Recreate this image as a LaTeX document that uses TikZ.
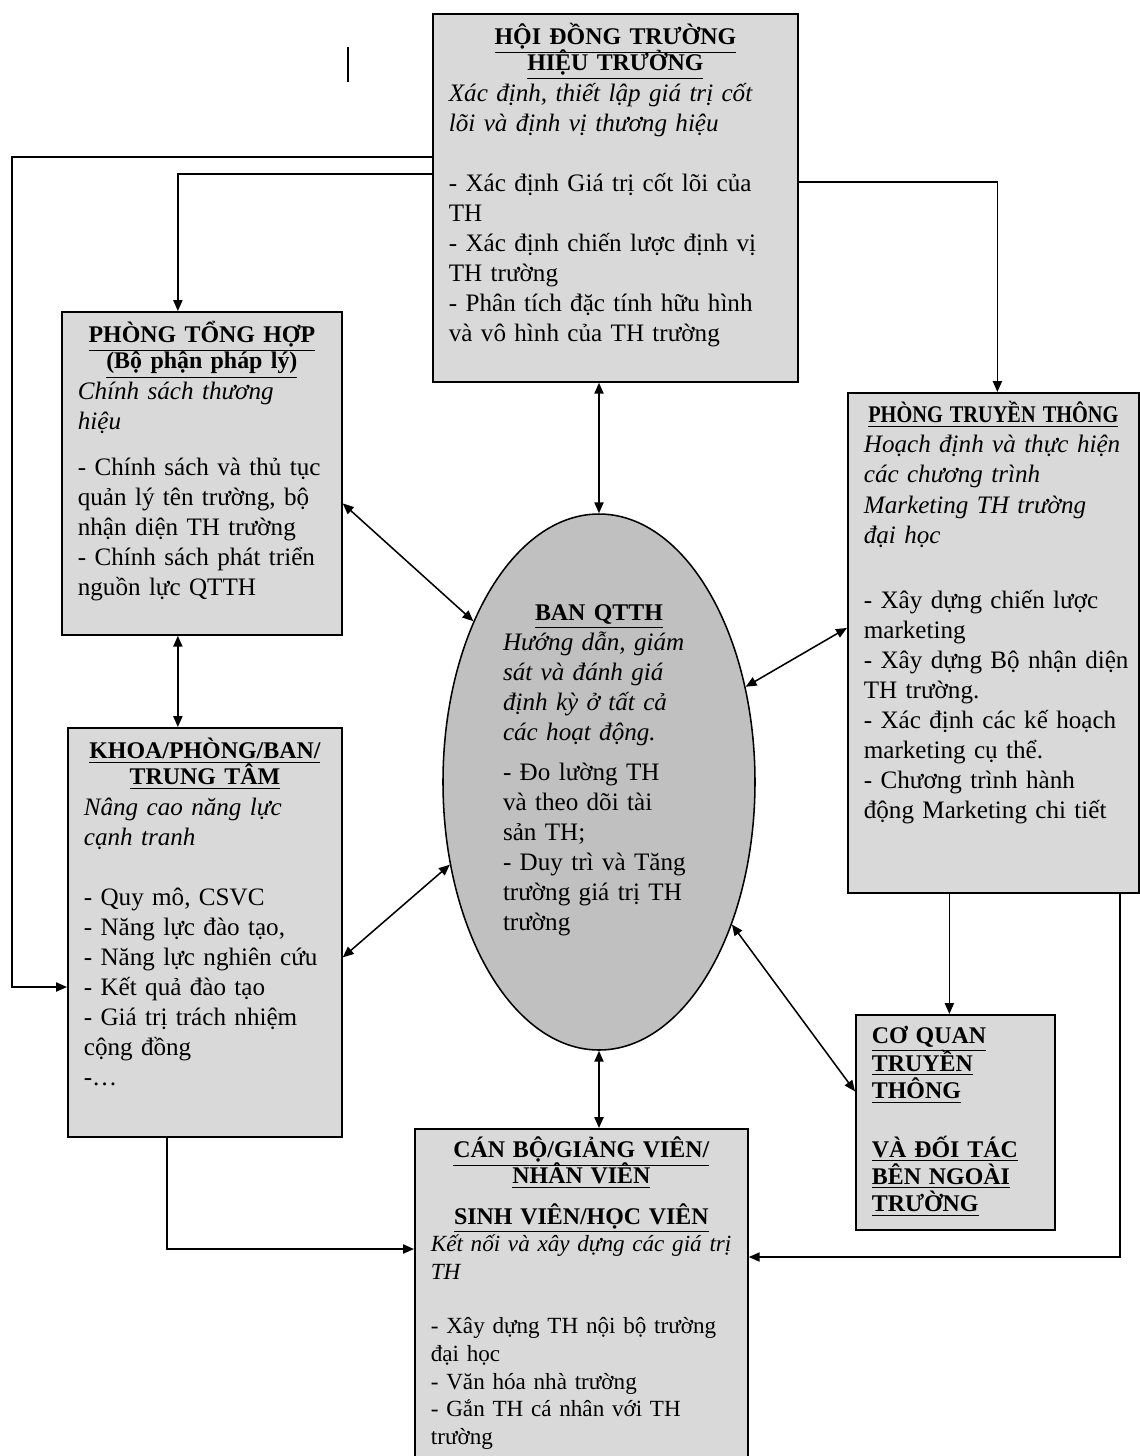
\documentclass[tikz,border=0pt]{standalone}
\usepackage{fontspec}
\setmainfont{Liberation Serif}
\usepackage{graphicx}
\usetikzlibrary{arrows.meta,shapes.geometric}

\newlength{\pxu}
\setlength{\pxu}{0.456pt}
\definecolor{boxgray}{HTML}{D9D9D9}
\definecolor{ovalgray}{HTML}{C0C0C0}
\newcommand{\unithead}[1]{{\centering\fontsize{10.9}{11.9}\selectfont\bfseries #1\par}}

\begin{document}
\begin{tikzpicture}[
    x=0.456pt, y=-0.456pt,
    font=\fontsize{11.45}{13.7}\selectfont,
    >={Triangle[length=5pt,width=4.2pt]},
    unitblock/.style={draw, line width=0.8pt, fill=boxgray, anchor=north west, inner sep=0pt,
        execute at begin node={\lineskiplimit=-20pt\lineskip=0pt%
            \leftskip=16\pxu\rightskip=0pt plus 1fil\parfillskip=0pt plus 1fil}},
    coreblock/.style={ellipse, draw, line width=0.7pt, fill=ovalgray, inner sep=0pt, align=left,
        minimum width=312\pxu, minimum height=536\pxu, text width=192\pxu, text height=20\pxu, text depth=344\pxu,
        execute at begin node={\lineskiplimit=-20pt\lineskip=0pt}},
    arrow/.style={line width=0.7pt,->},
    dblarrow/.style={line width=0.7pt,<->}
    ]

    \useasboundingbox (0,0) rectangle (1140,1456);

    % Top: school council
    \node[unitblock, text width=365\pxu, text height=31\pxu, text depth=337\pxu] (hdt) at (432,13) {%
        \unithead{\underline{HỘI ĐỒNG TRƯỜNG}\\\underline{HIỆU TRƯỞNG}}%
        {\itshape Xác định, thiết lập giá trị cốt\\lõi và định vị thương hiệu}\\[30\pxu]
        - Xác định Giá trị cốt lõi của\\TH\\
        - Xác định chiến lược định vị\\TH trường\\
        - Phân tích đặc tính hữu hình\\và vô hình của TH trường};

    % Left column
    \node[unitblock, text width=280\pxu, text height=31\pxu, text depth=292\pxu] (pth) at (61,311) {%
        \unithead{\underline{PHÒNG TỔNG HỢP}\\\underline{(Bộ phận pháp lý)}}%
        {\itshape Chính sách thương\\hiệu}\\[16\pxu]
        - Chính sách và thủ tục\\quản lý tên trường, bộ\\nhận diện TH trường\\
        - Chính sách phát triển\\nguồn lực QTTH};
    \node[unitblock, text width=274\pxu, text height=31\pxu, text depth=378\pxu] (khoa) at (67,727) {%
        \unithead{\underline{KHOA/PHÒNG/BAN/}\\\underline{TRUNG TÂM}}%
        {\itshape Nâng cao năng lực\\cạnh tranh}\\[30\pxu]
        - Quy mô, CSVC\\- Năng lực đào tạo,\\- Năng lực nghiên cứu\\- Kết quả đào tạo\\
        - Giá trị trách nhiệm\\cộng đồng\\-…};

    % Right column
    \node[unitblock, text width=291\pxu, text height=30\pxu, text depth=470\pxu] (ptt) at (847,392) {%
        \unithead{\scalebox{0.85}[1]{\underline{PHÒNG TRUYỀN THÔNG}}}%
        {\itshape Hoạch định và thực hiện\\các chương trình\\Marketing TH trường\\đại học}\\[35\pxu]
        - Xây dựng chiến lược\\marketing\\
        - Xây dựng Bộ nhận diện\\TH trường.\\
        - Xác định các kế hoạch\\marketing cụ thể.\\
        - Chương trình hành\\động Marketing chi tiết};
    \node[unitblock, text width=199\pxu, text height=29\pxu, text depth=186\pxu,
        font=\fontsize{10.9}{12.5}\selectfont\bfseries] (cq) at (855,1014) {%
        \underline{CƠ QUAN}\\\underline{TRUYỀN}\\\underline{THÔNG}\\[31\pxu]
        \underline{VÀ ĐỐI TÁC}\\\underline{BÊN NGOÀI}\\\underline{TRƯỜNG}};

    % Centre: brand board
    \node[coreblock] (ban) at (599,782) {%
        \unithead{\underline{BAN QTTH}}%
        {\itshape Hướng dẫn, giám\\sát và đánh giá\\định kỳ ở tất cả\\các hoạt động.}\\[10\pxu]
        - Đo lường TH\\và theo dõi tài\\sản TH;\\
        - Duy trì và Tăng\\trường giá trị TH\\trường};

    % Bottom: staff and students
    \node[unitblock, text width=333\pxu, text height=29\pxu, text depth=311\pxu,
        font=\fontsize{10.55}{12.6}\selectfont] (cb) at (414,1128) {%
        \unithead{\underline{CÁN BỘ/GIẢNG VIÊN/}\\\underline{NHÂN VIÊN}\\[14\pxu]\underline{SINH VIÊN/HỌC VIÊN}}%
        {\itshape Kết nối và xây dựng các giá trị\\TH}\\[27\pxu]
        - Xây dựng TH nội bộ trường\\đại học\\- Văn hóa nhà trường\\
        - Gắn TH cá nhân với TH\\trường};

    % Stray mark
    \draw[line width=0.8pt] (348,47) -- (348,82);

    % Council to units
    \draw[arrow] ([yshift=-144\pxu]hdt.north west) -- ++(-420,0) |- ([yshift=-260\pxu]khoa.north west);
    \draw[arrow] ([yshift=-161\pxu]hdt.north west) -| ([xshift=-24\pxu]pth.north);
    \draw[arrow] ([yshift=-169\pxu]hdt.north east) -| ([xshift=4\pxu]ptt.north);
    \draw[dblarrow] (hdt.south -| ban.north) -- (ban.north);

    % Links with the brand board
    \draw[dblarrow] ([yshift=-30\pxu]pth.east) -- (ban.128);
    \draw[dblarrow] ([xshift=-24\pxu]pth.south) -- ([xshift=-27\pxu]khoa.north);
    \draw[dblarrow] ([yshift=-25\pxu]khoa.east) -- (ban.209);
    \draw[dblarrow] ([yshift=15\pxu]ptt.west) -- (ban.33);
    \draw[dblarrow] (ban.313) -- ([yshift=31\pxu]cq.west);
    \draw[dblarrow] (ban.south) -- (ban.south |- cb.north);

    % Down to media and to staff
    \draw[arrow] ([xshift=-44\pxu]ptt.south) -- ([xshift=-6\pxu]cq.north);
    \draw[arrow] ([xshift=-20\pxu]ptt.south east) |- ([yshift=-129\pxu]cb.north east);
    \draw[arrow] ([xshift=100\pxu]khoa.south west) |- ([yshift=-121\pxu]cb.north west);

\end{tikzpicture}
\end{document}
